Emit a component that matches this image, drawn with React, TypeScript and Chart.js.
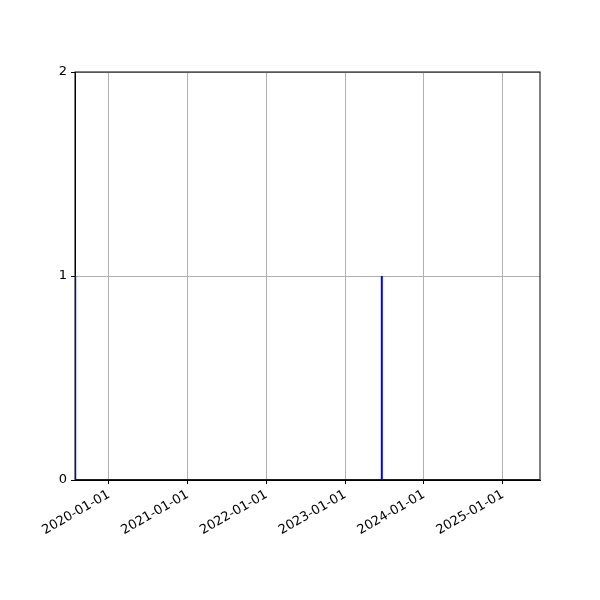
import React, { useEffect, useRef } from "react";
import { Chart, registerables } from "chart.js";

Chart.register(...registerables);

const dates: string[] = [
  "2019-07-28",
  "2019-07-29",
  "2023-06-18",
  "2023-06-19",
  "2023-06-20",
  "2025-06-22",
];
const values: number[] = [1, 0, 0, 1, 0, 0];
const yearTicks: number[] = [2020, 2021, 2022, 2023, 2024, 2025];
const yTicks: number[] = [0, 1, 2];

const toMs = (s: string) => Date.parse(s + "T00:00:00Z");

export default function App() {
  const ref = useRef<HTMLCanvasElement | null>(null);
  useEffect(() => {
    if (!ref.current) return;
    const framePlugin = {
      id: "frame",
      beforeDatasetsDraw(chart: any) {
        const { ctx, chartArea: a } = chart;
        ctx.save();
        ctx.strokeStyle = "#000";
        ctx.lineWidth = 1;
        ctx.strokeRect(a.left, a.top, a.right - a.left, a.bottom - a.top);
        ctx.restore();
      },
    };
    const chart = new Chart(ref.current, {
      type: "line",
      data: {
        datasets: [
          {
            data: dates.map((d, i) => ({ x: toMs(d), y: values[i] })),
            borderColor: "#0000ff",
            borderWidth: 2,
            pointRadius: 0,
            tension: 0,
            fill: false,
          },
        ],
      },
      options: {
        animation: false,
        responsive: false,
        devicePixelRatio: 1,
        layout: { padding: { top: 72, right: 60, left: 0, bottom: 0 } },
        plugins: { legend: { display: false }, tooltip: { enabled: false } },
        scales: {
          x: {
            type: "linear",
            min: toMs(dates[0]),
            max: toMs(dates[dates.length - 1]),
            afterBuildTicks: (scale: any) => {
              scale.ticks = yearTicks.map((y) => ({ value: Date.UTC(y, 0, 1) }));
            },
            afterFit: (scale: any) => {
              scale.height = 120;
            },
            grid: {
              color: "#b0b0b0",
              lineWidth: 1,
              tickColor: "#000",
              tickLength: 4,
            },
            border: { color: "#000", width: 1 },
            ticks: {
              minRotation: 30,
              maxRotation: 30,
              autoSkip: false,
              padding: 3,
              color: "#000",
              font: { family: "DejaVu Sans", size: 13 },
              callback: (v: any) => new Date(Number(v)).toISOString().slice(0, 10),
            },
          },
          y: {
            type: "linear",
            min: yTicks[0],
            max: yTicks[yTicks.length - 1],
            afterBuildTicks: (scale: any) => {
              scale.ticks = yTicks.map((v) => ({ value: v }));
            },
            afterFit: (scale: any) => {
              scale.width = 75;
            },
            grid: {
              color: "#b0b0b0",
              lineWidth: 1,
              tickColor: "#000",
              tickLength: 4,
            },
            border: { color: "#000", width: 1 },
            ticks: {
              padding: 4,
              color: "#000",
              font: { family: "DejaVu Sans", size: 13 },
              callback: (v: any) => String(v),
            },
          },
        },
      },
      plugins: [framePlugin],
    });
    return () => chart.destroy();
  }, []);
  return (
    <div style={{ position: "fixed", left: 0, top: 0, width: 600, height: 600, background: "#fff" }}>
      <canvas ref={ref} width={600} height={600} style={{ width: 600, height: 600 }} />
    </div>
  );
}
